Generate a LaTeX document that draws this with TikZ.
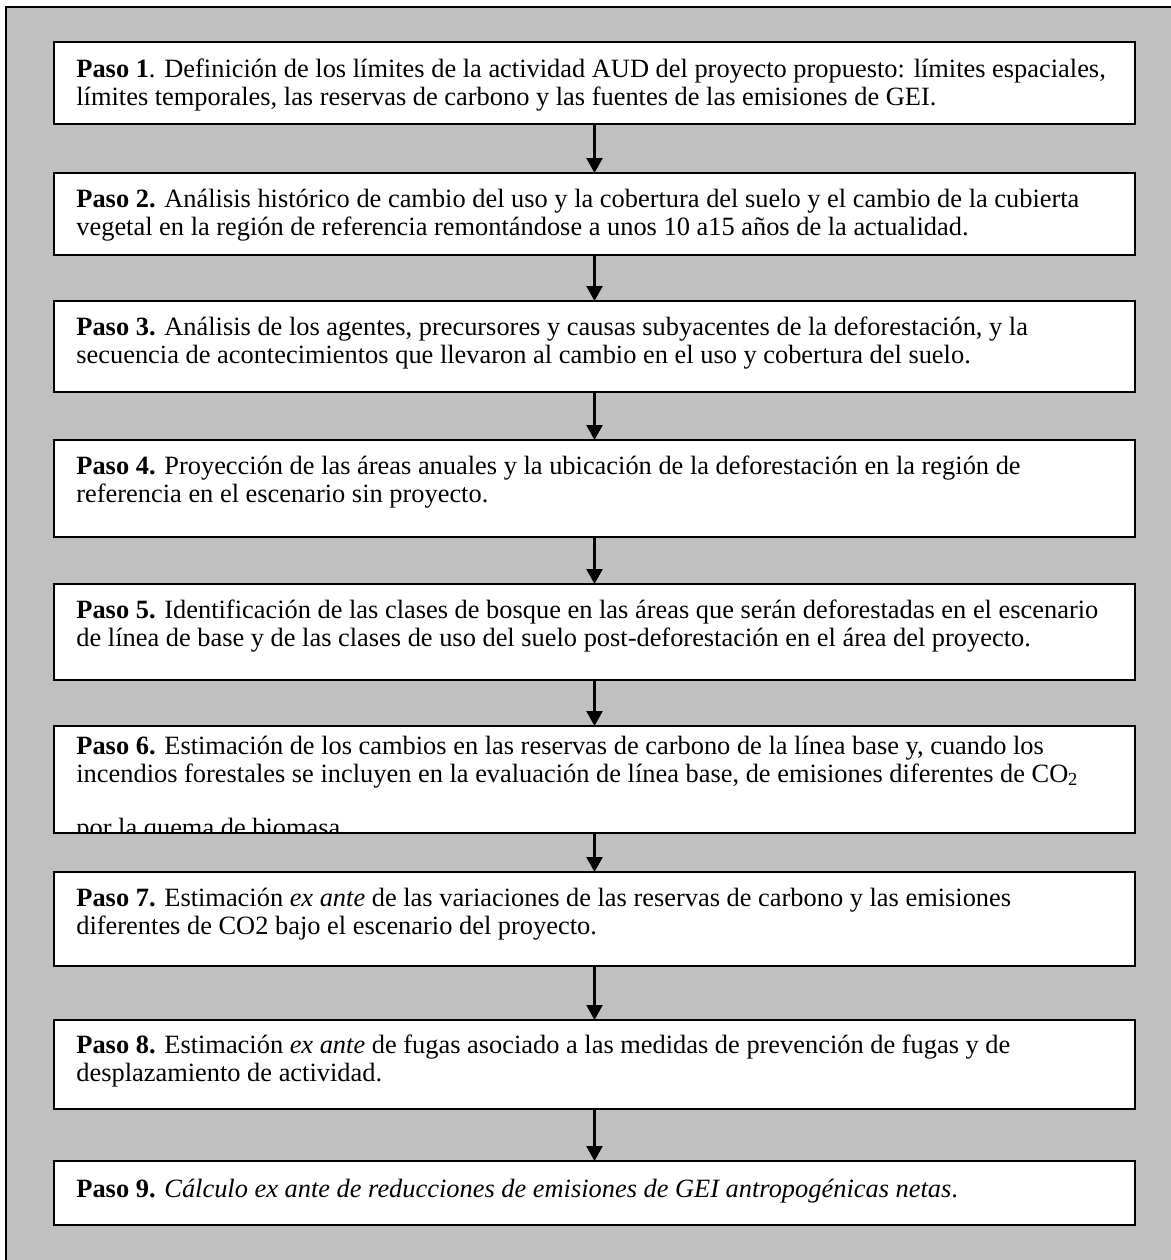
\documentclass[tikz,border=0pt]{standalone}
\usepackage{fontspec}
\setmainfont{Liberation Serif}
\usetikzlibrary{arrows.meta}
\definecolor{fondo}{RGB}{192,192,192}

\begin{document}
\begin{tikzpicture}[x=0.5pt, y=-0.5pt,
    pasobox/.style={draw=black, line width=1pt, fill=white, inner sep=0pt,
                    outer sep=0pt, anchor=north west, minimum width=540.5pt},
    pasotexto/.style={anchor=base west, inner sep=0pt,
                      font=\fontsize{13.2}{14}\selectfont},
    flecha/.style={-{Triangle[width=8pt, length=7.5pt]}, line width=1.1pt}]
  \useasboundingbox (0,0) rectangle (1171,1260);
  % marco gris de fondo
  \draw[fill=fondo, line width=1pt] (6,7) rectangle (1185,1275);

  % cajas de los pasos
  \node[pasobox, minimum height=41pt]   (p1) at (54,42)   {};
  \node[pasobox, minimum height=41pt]   (p2) at (54,173)  {};
  \node[pasobox, minimum height=45.5pt] (p3) at (54,301)  {};
  \node[pasobox, minimum height=48.5pt] (p4) at (54,440)  {};
  \node[pasobox, minimum height=48pt]   (p5) at (54,584)  {};
  \node[pasobox, minimum height=53.5pt] (p6) at (54,726)  {};
  \node[pasobox, minimum height=47pt]   (p7) at (54,872)  {};
  \node[pasobox, minimum height=44.5pt] (p8) at (54,1020) {};
  \node[pasobox, minimum height=32pt]   (p9) at (54,1161) {};

  % textos
  \node[pasotexto] (t1) at (76,77) {\begin{tabular}[t]{@{}l@{}}
    \textbf{Paso 1}. Definición de los límites de la actividad AUD del proyecto propuesto: límites espaciales,\\
    límites temporales, las reservas de carbono y las fuentes de las emisiones de GEI.\end{tabular}};
  \node[pasotexto] (t2) at (76,207) {\begin{tabular}[t]{@{}l@{}}
    \textbf{Paso 2.} Análisis histórico de cambio del uso y la cobertura del suelo y el cambio de la cubierta\\
    vegetal en la región de referencia remontándose a unos 10 a15 años de la actualidad.\end{tabular}};
  \node[pasotexto] (t3) at (76,335) {\begin{tabular}[t]{@{}l@{}}
    \textbf{Paso 3.} Análisis de los agentes, precursores y causas subyacentes de la deforestación, y la\\
    secuencia de acontecimientos que llevaron al cambio en el uso y cobertura del suelo.\end{tabular}};
  \node[pasotexto] (t4) at (76,474) {\begin{tabular}[t]{@{}l@{}}
    \textbf{Paso 4.} Proyección de las áreas anuales y la ubicación de la deforestación en la región de\\
    referencia en el escenario sin proyecto.\end{tabular}};
  \node[pasotexto] (t5) at (76,618) {\begin{tabular}[t]{@{}l@{}}
    \textbf{Paso 5.} Identificación de las clases de bosque en las áreas que serán deforestadas en el escenario\\
    de línea de base y de las clases de uso del suelo post-deforestación en el área del proyecto.\end{tabular}};
  \begin{scope}
    \clip (p6.north west) rectangle (p6.south east);
    \node[pasotexto] (t6) at (76,754) {\begin{tabular}[t]{@{}l@{}}
      \textbf{Paso 6.} Estimación de los cambios en las reservas de carbono de la línea base y, cuando los\\
      incendios forestales se incluyen en la evaluación de línea base, de emisiones diferentes de CO\textsubscript{2}\\[13pt]
      por la quema de biomasa.\end{tabular}};
  \end{scope}
  \draw[line width=1pt] (p6.north west) rectangle (p6.south east);
  \node[pasotexto] (t7) at (76,906) {\begin{tabular}[t]{@{}l@{}}
    \textbf{Paso 7.} Estimación \textit{ex ante} de las variaciones de las reservas de carbono y las emisiones\\
    diferentes de CO2 bajo el escenario del proyecto.\end{tabular}};
  \node[pasotexto] (t8) at (76,1053) {\begin{tabular}[t]{@{}l@{}}
    \textbf{Paso 8.} Estimación \textit{ex ante} de fugas asociado a las medidas de prevención de fugas y de\\
    desplazamiento de actividad.\end{tabular}};
  \node[pasotexto] (t9) at (76,1197)
    {\textbf{Paso 9.} \textit{Cálculo ex ante de reducciones de emisiones de GEI antropogénicas netas}.};

  % flechas entre pasos
  \foreach \a/\b in {p1/p2, p2/p3, p3/p4, p4/p5, p5/p6, p6/p7, p7/p8, p8/p9}
    \draw[flecha] (\a.south) -- (\b.north);
\end{tikzpicture}
\end{document}
